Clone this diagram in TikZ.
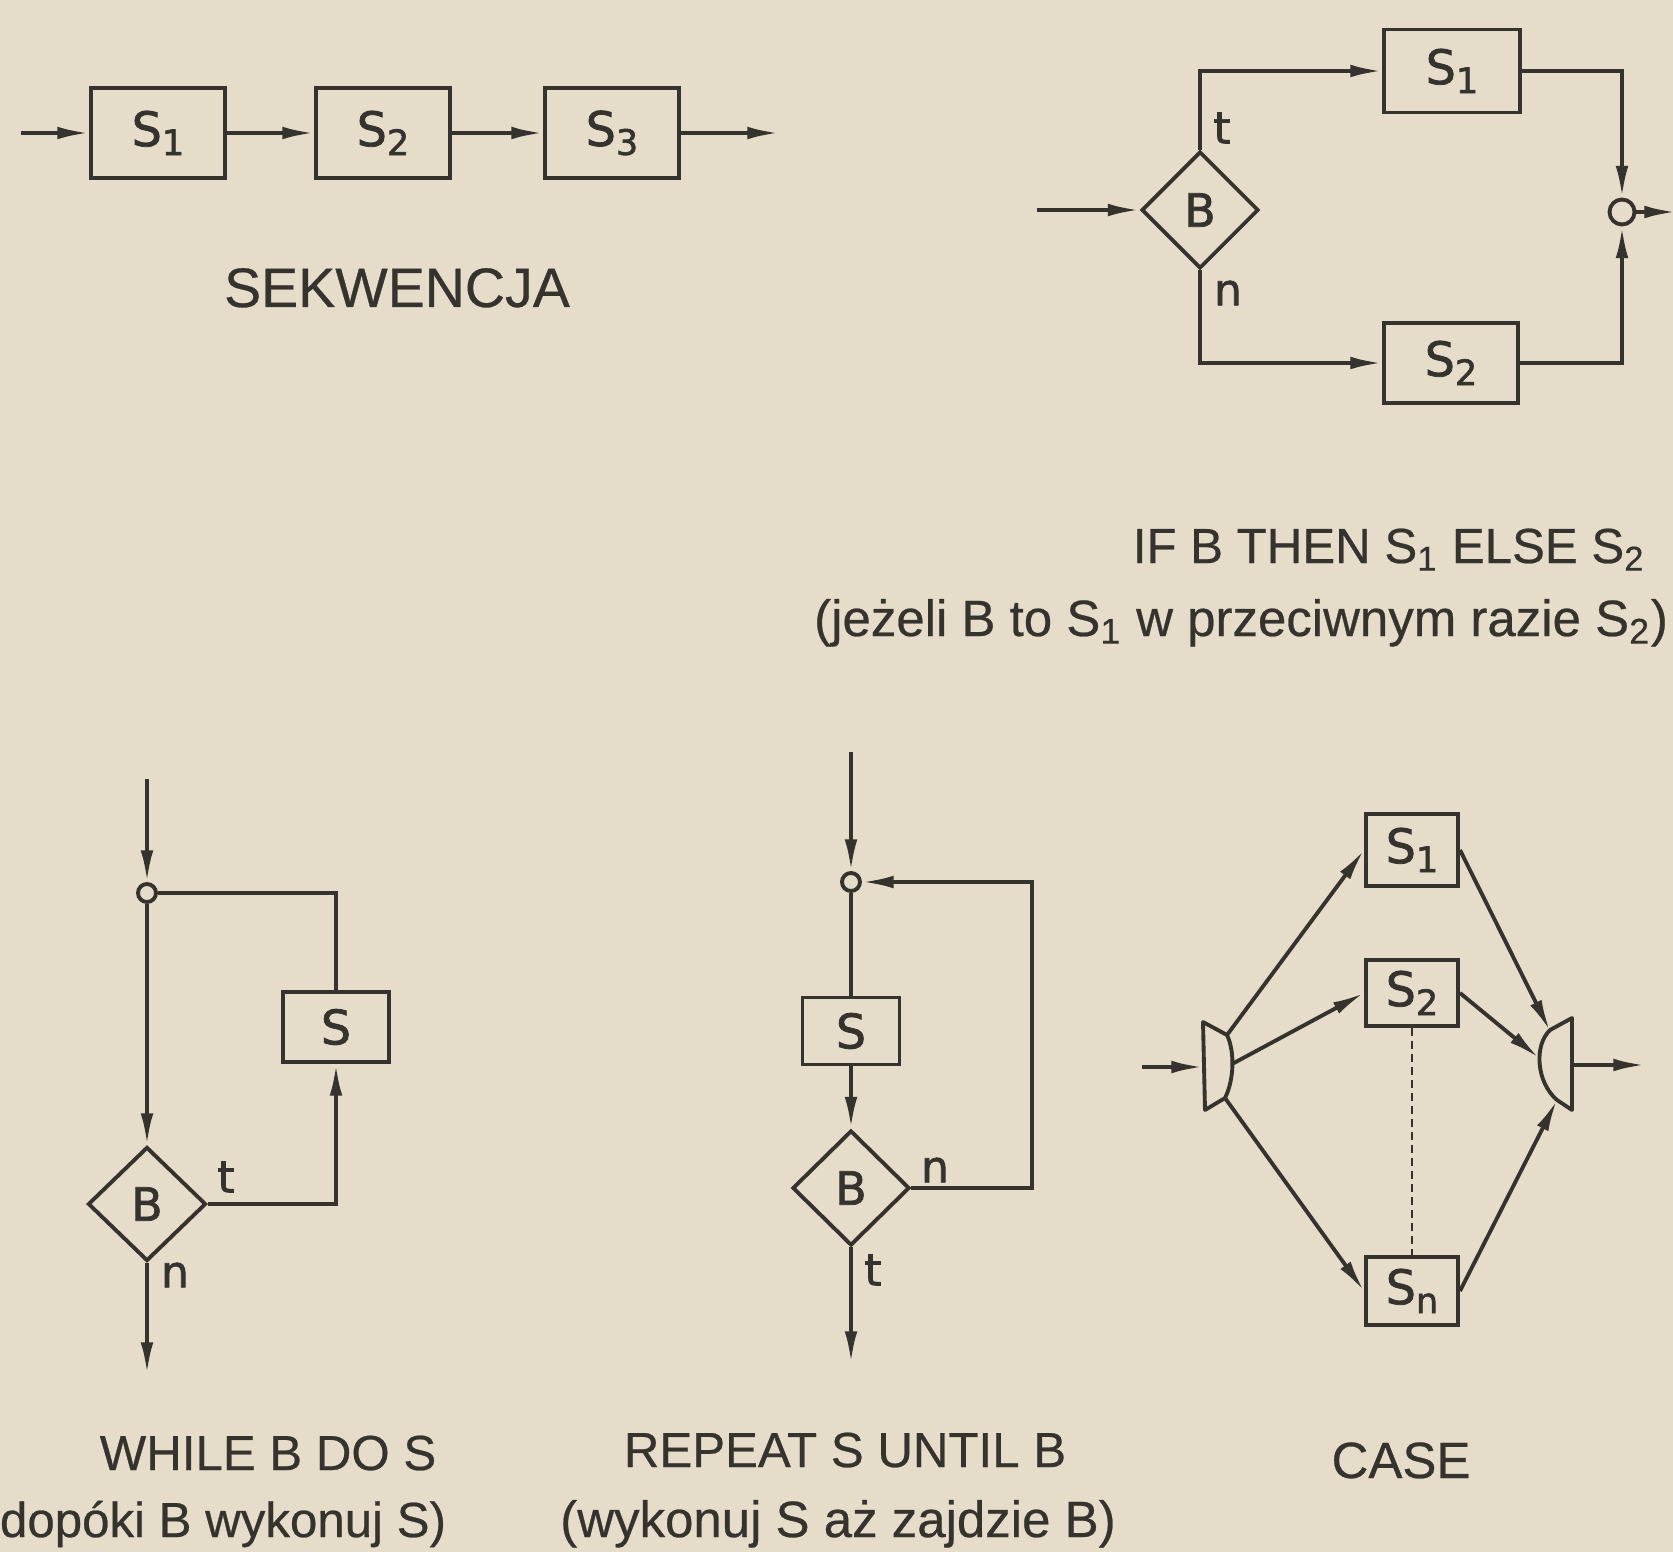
\documentclass[tikz,border=0pt]{standalone}
\usepackage{fontspec}
\setmainfont[FakeBold=0.5]{Liberation Sans}
\newfontfamily\lblfont[FakeBold=1.6]{DejaVu Sans}
\usetikzlibrary{arrows.meta,shapes.geometric}
\definecolor{paper}{HTML}{E5DDC9}
\definecolor{ink}{HTML}{36322E}
\newcommand{\Ssub}[1]{S\textsubscript{#1}}
\newcommand{\Sbox}[1]{S\raisebox{-0.35ex}{\fontsize{10}{12}\selectfont #1}}
\begin{document}
\begin{tikzpicture}[x=0.01cm,y=-0.01cm,line width=1.1pt,color=ink,
  box/.style={draw,rectangle,inner sep=0pt,font=\lblfont\fontsize{13.5}{16}\selectfont},
  dec/.style={draw,diamond,inner sep=0pt,font=\lblfont\fontsize{13}{15}\selectfont},
  junc/.style={draw,circle,fill=paper,inner sep=0pt},
  arr/.style={-{Latex[length=9pt,width=3.6pt]}},
  lab/.style={font=\lblfont\fontsize{12.5}{14}\selectfont,inner sep=0pt},
  capt/.style={font=\fontsize{14}{17}\selectfont,inner sep=0pt,anchor=base}]
\path[use as bounding box,fill=paper] (0,0) rectangle (1673,1552);

% ---------- SEKWENCJA ----------
\node[box,minimum width=1.34cm,minimum height=0.9cm] (q1) at (158,133) {\Sbox{1}};
\node[box,minimum width=1.34cm,minimum height=0.9cm] (q2) at (383,133) {\Sbox{2}};
\node[box,minimum width=1.34cm,minimum height=0.9cm] (q3) at (612,133) {\Sbox{3}};
\coordinate (qin) at (21,133);
\coordinate (qout) at (779,133);
\draw[arr] (qin) -- (q1.west);
\draw[arr] (q1.east) -- (q2.west);
\draw[arr] (q2.east) -- (q3.west);
\draw[arr] (q3.east) -- (qout);
\node[capt,font=\fontsize{15.8}{19}\selectfont] (tq) at (397,307) {SEKWENCJA};

% ---------- IF ----------
\node[dec,minimum width=1.17cm,minimum height=1.17cm] (iB) at (1200,210) {B};
\node[box,minimum width=1.36cm,minimum height=0.83cm] (i1) at (1452,71) {\Sbox{1}};
\node[box,minimum width=1.34cm,minimum height=0.8cm] (i2) at (1451,363) {\Sbox{2}};
\node[junc,minimum size=0.25cm] (iJ) at (1622,212) {};
\coordinate (iin) at (1037,210);
\coordinate (iout) at (1676,212);
\draw[arr] (iin) -- (iB.west);
\draw[arr] (iB.north) |- (i1.west);
\draw[arr] (iB.south) |- (i2.west);
\draw[arr] (i1.east) -| (iJ.north);
\draw[arr] (i2.east) -| (iJ.south);
\draw[arr] (iJ.east) -- (iout);
\node[lab] (it) at (1222,128) {t};
\node[lab] (in) at (1228,293) {n};
\node[capt] (ti1) at (1389,563) {IF B THEN \Ssub{1} ELSE \Ssub{2}};
\node[capt,font=\fontsize{14.5}{17}\selectfont] (ti2) at (1241,636) {(jeżeli B to \Ssub{1} w przeciwnym razie \Ssub{2})};

% ---------- WHILE ----------
\node[junc,minimum size=0.18cm] (wJ) at (147,893) {};
\node[box,minimum width=1.06cm,minimum height=0.7cm] (wS) at (336,1027) {S};
\node[dec,minimum width=1.18cm,minimum height=1.14cm] (wB) at (147,1204) {B};
\coordinate (win) at (147,779);
\coordinate (wout) at (147,1374);
\draw[arr] (win) -- (wJ.north);
\draw[arr] (wJ.south) -- (wB.north);
\draw (wJ.east) -| (wS.north);
\draw[arr] (wB.east) -| (wS.south);
\draw[arr] (wB.south) -- (wout);
\node[lab] (wt) at (226,1177) {t};
\node[lab] (wn) at (175,1275) {n};
\node[capt] (tw1) at (268,1470) {WHILE B DO S};
\node[capt,anchor=base east] (tw2) at (448,1537) {(dopóki B wykonuj S)};

% ---------- REPEAT ----------
\node[junc,minimum size=0.18cm] (rJ) at (851,882) {};
\node[box,minimum width=0.97cm,minimum height=0.67cm] (rS) at (851,1031) {S};
\node[dec,minimum width=1.17cm,minimum height=1.15cm] (rB) at (851,1188) {B};
\coordinate (rin) at (851,752);
\coordinate (rout) at (851,1363);
\coordinate (rloop) at (1032,1000);
\draw[arr] (rin) -- (rJ.north);
\draw (rJ.south) -- (rS.north);
\draw[arr] (rS.south) -- (rB.north);
\draw[arr] (rB.east) -- (rB.east -| rloop) -- (rJ.east -| rloop) -- (rJ.east);
\draw[arr] (rB.south) -- (rout);
\node[lab] (rn) at (935,1170) {n};
\node[lab] (rt) at (873,1270) {t};
\node[capt] (tr1) at (845,1467) {REPEAT S UNTIL B};
\node[capt,font=\fontsize{14.5}{17}\selectfont] (tr2) at (838,1537) {(wykonuj S aż zajdzie B)};

% ---------- CASE ----------
\node[box,minimum width=0.92cm,minimum height=0.72cm] (c1) at (1412,850) {\Sbox{1}};
\node[box,minimum width=0.92cm,minimum height=0.66cm] (c2) at (1412,993) {\Sbox{2}};
\node[box,minimum width=0.92cm,minimum height=0.68cm] (cn) at (1412,1291) {\Sbox{n}};
\draw[line join=round] (1203,1022) -- (1227,1035) .. controls (1235,1052) and (1234,1080) .. (1225,1098) -- (1205,1110) -- cycle;
\draw[line join=round] (1572,1018) -- (1550,1030) .. controls (1534,1045) and (1536,1082) .. (1557,1100) -- (1572,1110) -- cycle;
\coordinate (cL1) at (1227,1035);
\coordinate (cL2) at (1232,1064);
\coordinate (cL3) at (1225,1098);
\coordinate (cLw) at (1203,1067);
\coordinate (cR1) at (1550,1031);
\coordinate (cR2) at (1539,1058);
\coordinate (cR3) at (1557,1100);
\coordinate (cRe) at (1572,1065);
\coordinate (cin) at (1142,1067);
\coordinate (cout) at (1645,1065);
\draw[arr] (cin) -- (cLw);
\draw[arr] (cL1) -- (c1.west);
\draw[arr] (cL2) -- (c2.west);
\draw[arr] (cL3) -- (cn.west);
\draw[arr] (c1.east) -- (cR1);
\draw[arr] (c2.east) -- (cR2);
\draw[arr] (cn.east) -- (cR3);
\draw[arr] (cRe) -- (cout);
\draw[dash pattern=on 2.2pt off 1.5pt,line width=0.7pt] (c2.south) -- (cn.north);
\node[capt,font=\fontsize{14.5}{17}\selectfont] (tc) at (1401,1478) {CASE};
\end{tikzpicture}
\end{document}
